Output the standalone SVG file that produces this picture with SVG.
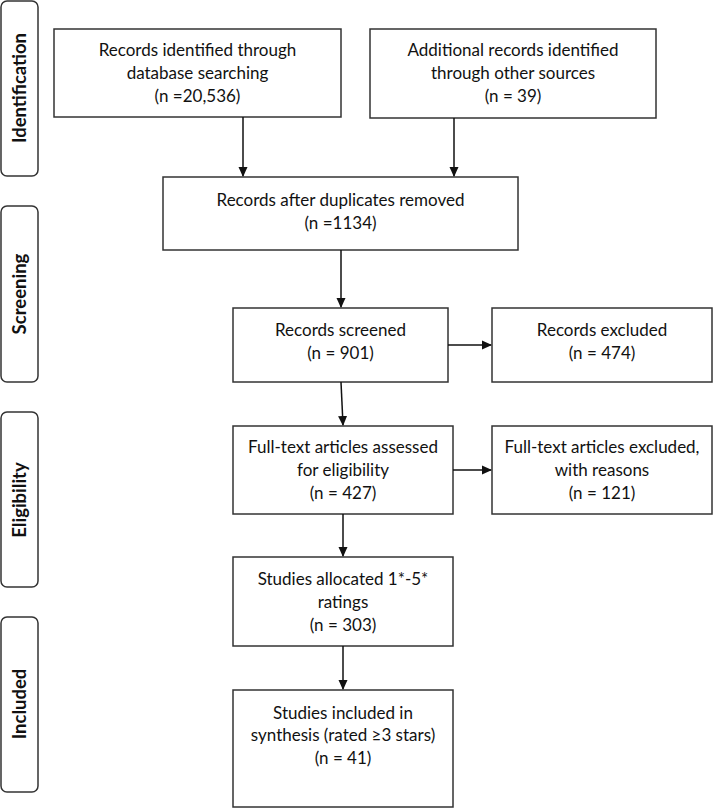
<svg xmlns="http://www.w3.org/2000/svg" width="713" height="808" viewBox="0 0 713 808">
<style>
.box{fill:#fff;stroke:#333;stroke-width:1.5}
.side{fill:#fff;stroke:#333;stroke-width:1.5}
.t{font-family:Lato,"Open Sans","Liberation Sans",sans-serif;font-size:17px;fill:#111;text-anchor:middle}
.s{font-family:Lato,"Open Sans","Liberation Sans",sans-serif;font-size:18.5px;font-weight:bold;fill:#111;text-anchor:middle}
.c{stroke:#111;stroke-width:1.5;fill:none;marker-end:url(#ah)}
</style>
<defs>
<marker id="ah" markerWidth="10" markerHeight="10" refX="9" refY="5" orient="auto" markerUnits="userSpaceOnUse">
<path d="M0,0.5 L10,5 L0,9.5 Z" fill="#111"/>
</marker>
</defs>
<g id="phase-identification"><rect class="side" x="1" y="1" width="37" height="175" rx="6"/><text class="s" transform="translate(26,88) rotate(-90)">Identification</text></g>
<g id="phase-screening"><rect class="side" x="1" y="206" width="37" height="176" rx="6"/><text class="s" transform="translate(26,294) rotate(-90)">Screening</text></g>
<g id="phase-eligibility"><rect class="side" x="1" y="412" width="37" height="175" rx="6"/><text class="s" transform="translate(26,500) rotate(-90)">Eligibility</text></g>
<g id="phase-included"><rect class="side" x="1" y="617" width="37" height="175" rx="6"/><text class="s" transform="translate(26,704) rotate(-90)">Included</text></g>

<g id="n-db"><rect class="box" x="54" y="29" width="287" height="88"/>
<text class="t" x="197.5" y="56">Records identified through</text>
<text class="t" x="197.5" y="79">database searching</text>
<text class="t" x="197.5" y="102">(n =20,536)</text></g>
<g id="n-other"><rect class="box" x="370" y="29" width="286" height="89"/>
<text class="t" x="513" y="56">Additional records identified</text>
<text class="t" x="513" y="79">through other sources</text>
<text class="t" x="513" y="102">(n = 39)</text></g>
<g id="n-dup"><rect class="box" x="163" y="177" width="355" height="73"/>
<text class="t" x="340.5" y="206">Records after duplicates removed</text>
<text class="t" x="340.5" y="229">(n =1134)</text></g>
<g id="n-screened"><rect class="box" x="233" y="308" width="215" height="74"/>
<text class="t" x="340.5" y="336">Records screened</text>
<text class="t" x="340.5" y="359">(n = 901)</text></g>
<g id="n-excl"><rect class="box" x="492" y="308" width="220" height="74"/>
<text class="t" x="602" y="336">Records excluded</text>
<text class="t" x="602" y="359">(n = 474)</text></g>
<g id="n-ft"><rect class="box" x="233" y="426" width="220" height="88"/>
<text class="t" x="343" y="453">Full-text articles assessed</text>
<text class="t" x="343" y="476">for eligibility</text>
<text class="t" x="343" y="499">(n = 427)</text></g>
<g id="n-ftexcl"><rect class="box" x="492" y="426" width="220" height="88"/>
<text class="t" x="602" y="453">Full-text articles excluded,</text>
<text class="t" x="602" y="476">with reasons</text>
<text class="t" x="602" y="499">(n = 121)</text></g>
<g id="n-alloc"><rect class="box" x="233" y="557" width="220" height="89"/>
<text class="t" x="343" y="585">Studies allocated 1*-5*</text>
<text class="t" x="343" y="608">ratings</text>
<text class="t" x="343" y="631">(n = 303)</text></g>
<g id="n-incl"><rect class="box" x="233" y="690" width="220" height="117"/>
<text class="t" x="343" y="719">Studies included in</text>
<text class="t" x="343" y="741">synthesis (rated ≥3 stars)</text>
<text class="t" x="343" y="764">(n = 41)</text></g>

<g id="connectors">
<line class="c" x1="243" y1="117" x2="243" y2="176"/>
<line class="c" x1="454" y1="118" x2="454" y2="176"/>
<line class="c" x1="341" y1="250" x2="341" y2="307"/>
<line class="c" x1="448" y1="345" x2="491" y2="345"/>
<line class="c" x1="341" y1="382" x2="343" y2="425"/>
<line class="c" x1="453" y1="470" x2="491" y2="470"/>
<line class="c" x1="343" y1="514" x2="343" y2="556"/>
<line class="c" x1="343" y1="646" x2="343" y2="689"/>
</g>
</svg>
